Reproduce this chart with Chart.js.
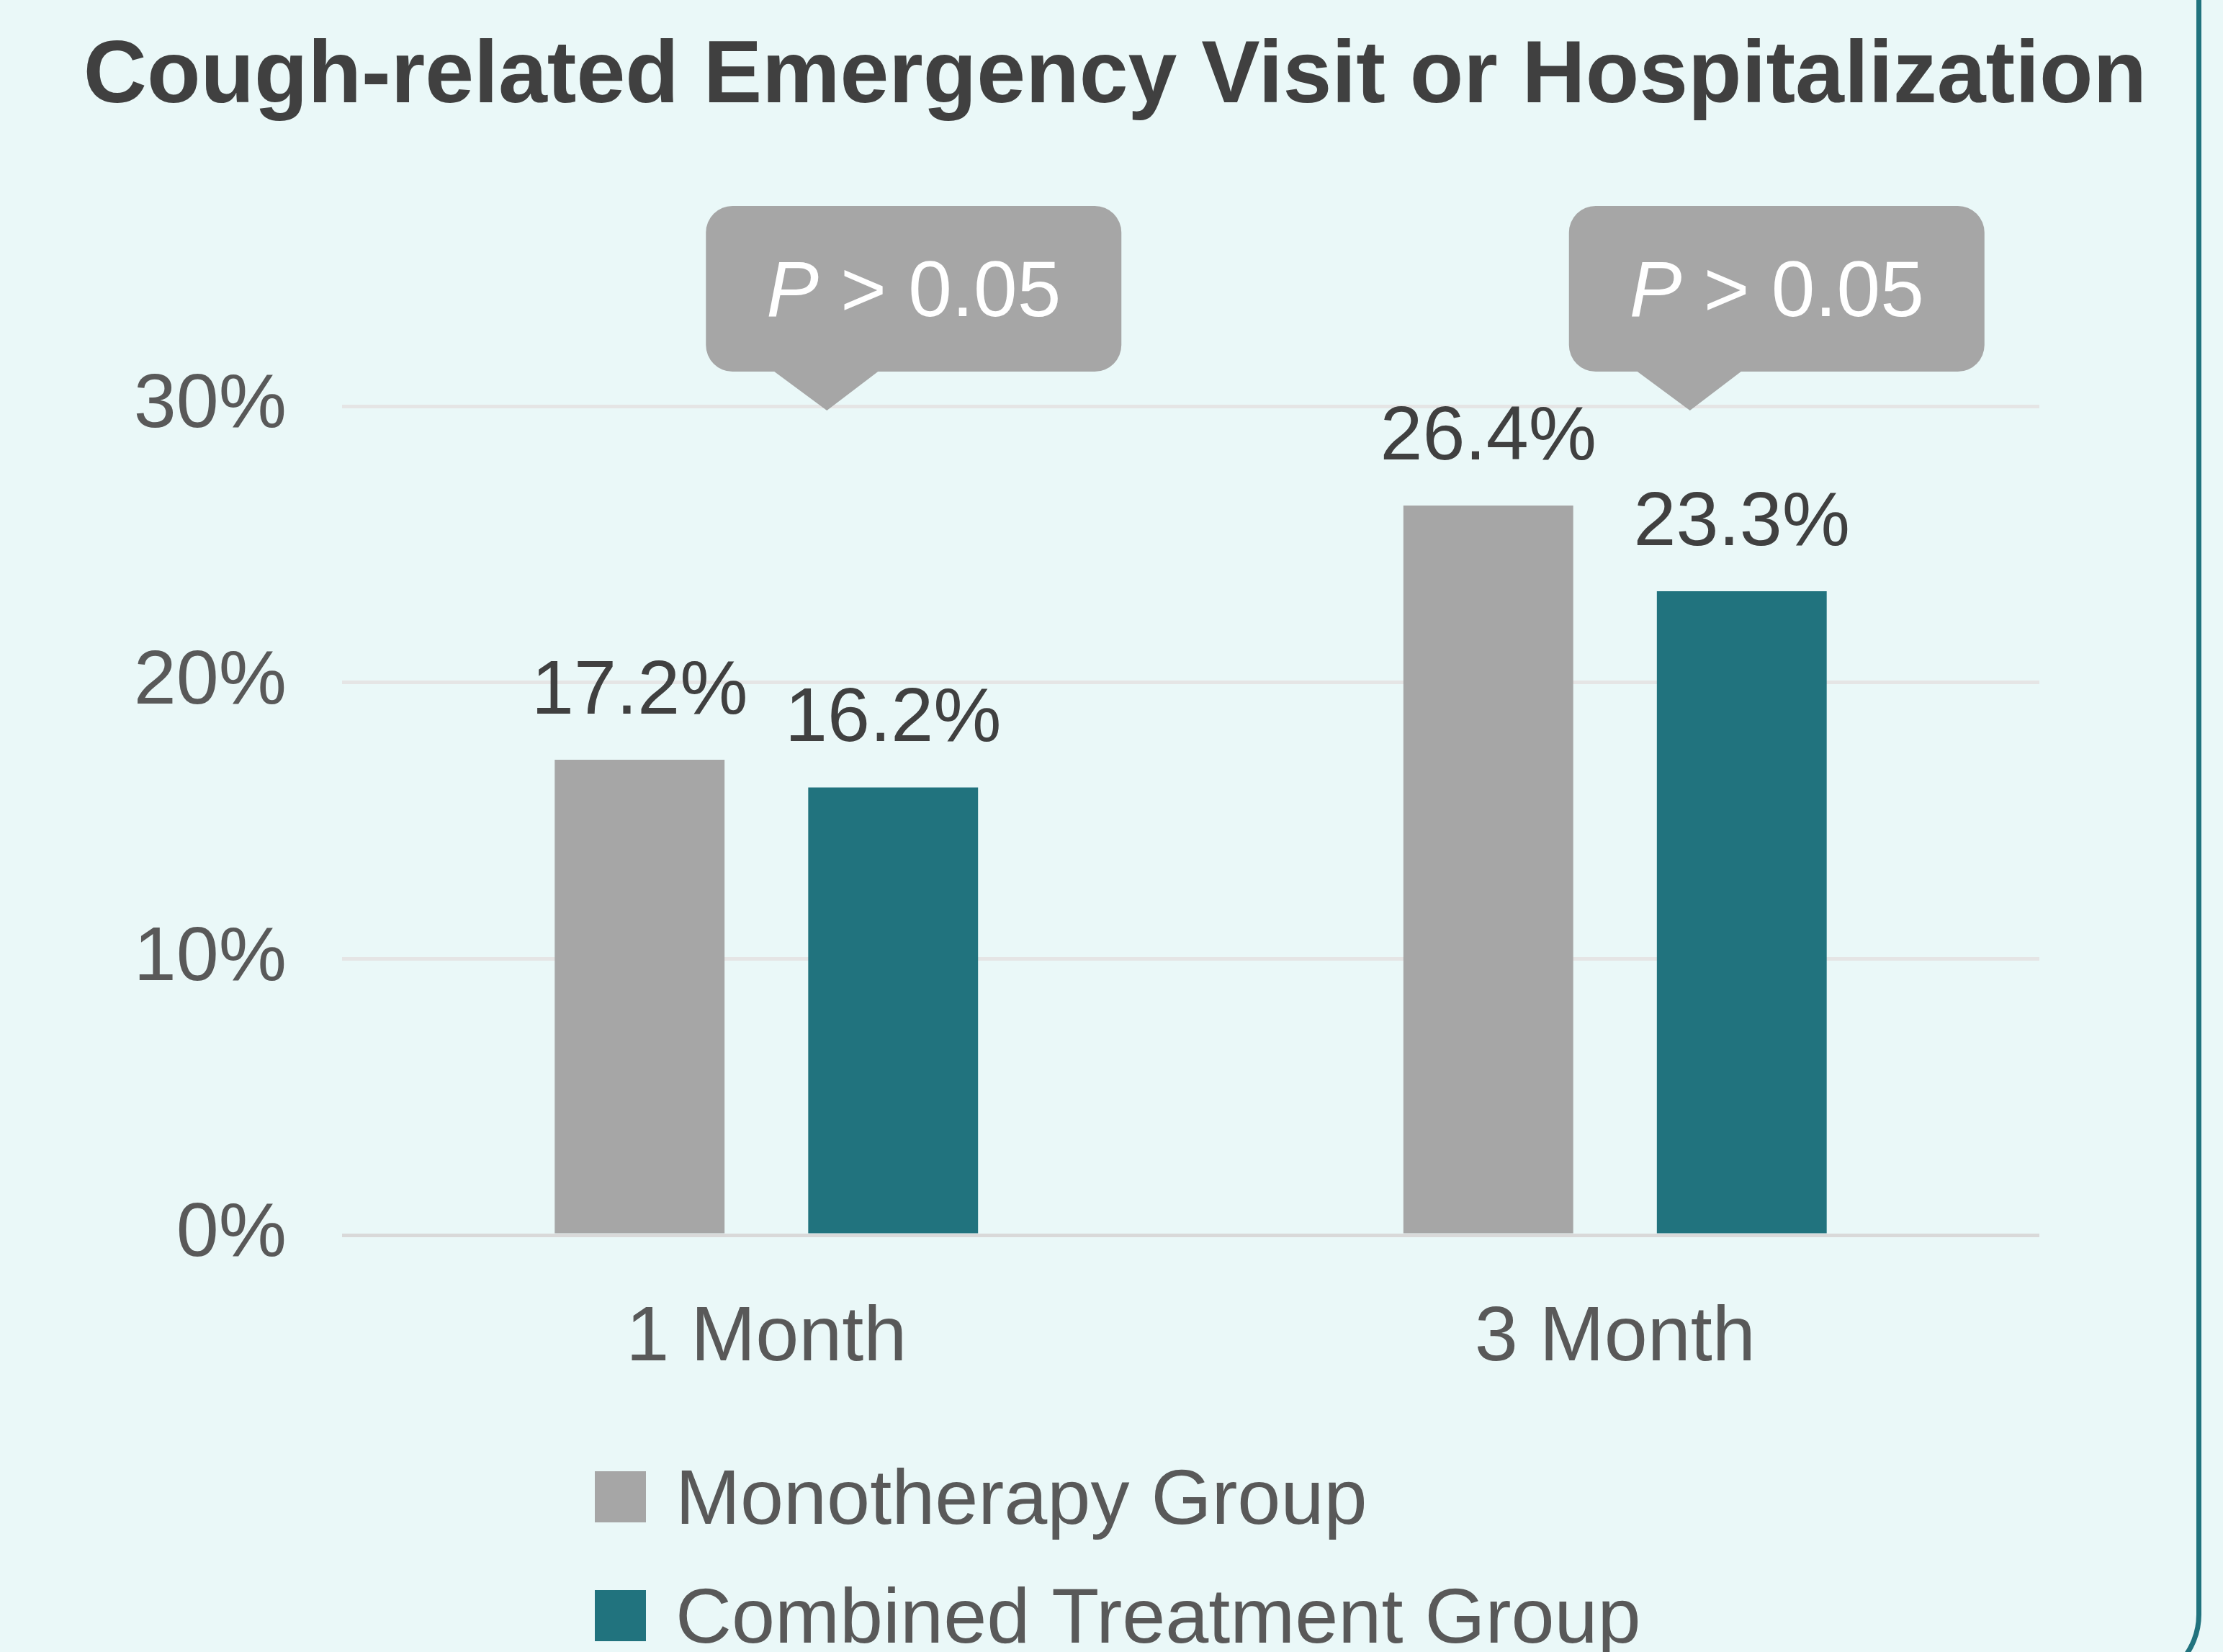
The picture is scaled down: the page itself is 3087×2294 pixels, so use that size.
<!DOCTYPE html>
<html>
<head>
<meta charset="utf-8">
<title>Cough-related Emergency Visit or Hospitalization</title>
<script src="https://cdn.jsdelivr.net/npm/chart.js@4/dist/chart.umd.min.js"></script>
<style>
  html, body { margin: 0; padding: 0; background: #eaf8f8; overflow: hidden; }
  #wrap { position: relative; width: 3087px; height: 2294px; }
  #card {
    position: absolute; left: -300px; top: -300px;
    width: 3357px; height: 2642px; box-sizing: border-box;
    border: 7px solid #21737e; border-radius: 100px;
  }
  canvas { position: absolute; left: 0; top: 0; }
</style>
</head>
<body>
<div id="wrap">
  <div id="card"></div>
  <canvas id="coughChart" width="3087" height="2294"></canvas>
</div>
<script>
const categories = ["1 Month", "3 Month"];
const monoValues = [17.2, 26.4];
const combinedValues = [16.2, 23.3];
const seriesNames = ["Monotherapy Group", "Combined Treatment Group"];
const yMax = 30;
const yStep = 10;
const pLabels = ["> 0.05", "> 0.05"];
const chartTitle = "Cough-related Emergency Visit or Hospitalization";

const FONT = "'Liberation Sans', Arial, Helvetica, sans-serif";
const GRAY = "#a6a6a6";
const TEAL = "#21737e";
// horizontal nudge of each bubble tip from its category centre
const bubbleDx = [84, 104];

// title centred on the whole card, not on the plot
const cardTitle = {
  id: "cardTitle",
  afterDraw(chart) {
    const ctx = chart.ctx;
    ctx.save();
    ctx.font = "bold 122px " + FONT;
    ctx.fillStyle = "#404040";
    ctx.textAlign = "center";
    ctx.textBaseline = "alphabetic";
    ctx.fillText(chartTitle, chart.width / 2 + 5, 142);
    ctx.restore();
  }
};

// value labels above each bar
const barLabels = {
  id: "barLabels",
  afterDatasetsDraw(chart) {
    const ctx = chart.ctx;
    ctx.save();
    ctx.font = "106px " + FONT;
    ctx.fillStyle = "#404040";
    ctx.textAlign = "center";
    ctx.textBaseline = "alphabetic";
    chart.data.datasets.forEach((ds, i) => {
      chart.getDatasetMeta(i).data.forEach((bar, j) => {
        ctx.fillText(ds.data[j].toFixed(1) + "%", bar.x, bar.y - 64);
      });
    });
    ctx.restore();
  }
};

// grey speech bubbles with the p values
const pBubbles = {
  id: "pBubbles",
  afterDraw(chart) {
    const ctx = chart.ctx;
    const xs = chart.scales.x;
    const top = chart.chartArea.top;
    ctx.save();
    pLabels.forEach((txt, i) => {
      const tipX = xs.getPixelForValue(i) + bubbleDx[i];
      const tipY = top + 6;
      const left = tipX - 168, w = 577;
      const bottom = top - 48, h = 230, r = 37;
      const y0 = bottom - h;
      ctx.fillStyle = GRAY;
      ctx.beginPath();
      ctx.moveTo(left + r, y0);
      ctx.lineTo(left + w - r, y0);
      ctx.arcTo(left + w, y0, left + w, y0 + r, r);
      ctx.lineTo(left + w, bottom - r);
      ctx.arcTo(left + w, bottom, left + w - r, bottom, r);
      ctx.lineTo(tipX + 71, bottom);
      ctx.lineTo(tipX, tipY);
      ctx.lineTo(tipX - 73, bottom);
      ctx.lineTo(left + r, bottom);
      ctx.arcTo(left, bottom, left, bottom - r, r);
      ctx.lineTo(left, y0 + r);
      ctx.arcTo(left, y0, left + r, y0, r);
      ctx.closePath();
      ctx.fill();

      const italic = "italic 109px " + FONT;
      const normal = "109px " + FONT;
      ctx.font = italic;
      const pw = ctx.measureText("P").width;
      ctx.font = normal;
      const rest = " " + txt;
      const rw = ctx.measureText(rest).width;
      const sx = left + w / 2 - (pw + rw) / 2;
      const by = y0 + h / 2 + 38;
      ctx.fillStyle = "#ffffff";
      ctx.textAlign = "left";
      ctx.textBaseline = "alphabetic";
      ctx.font = italic;
      ctx.fillText("P", sx, by);
      ctx.font = normal;
      ctx.fillText(rest, sx + pw, by);
    });
    ctx.restore();
  }
};

// stacked legend under the axis
const stackedLegend = {
  id: "stackedLegend",
  afterDraw(chart) {
    const ctx = chart.ctx;
    const items = Chart.defaults.plugins.legend.labels.generateLabels(chart);
    ctx.save();
    ctx.font = "108px " + FONT;
    ctx.textAlign = "left";
    ctx.textBaseline = "alphabetic";
    items.forEach((item, i) => {
      const top = 2043 + i * 165;
      ctx.fillStyle = item.fillStyle;
      ctx.fillRect(826, top, 71, 71);
      ctx.fillStyle = "#595959";
      ctx.fillText(item.text, 938, top + 73);
    });
    ctx.restore();
  }
};

new Chart(document.getElementById("coughChart").getContext("2d"), {
  type: "bar",
  data: {
    labels: categories,
    datasets: [
      { label: seriesNames[0], data: monoValues, backgroundColor: GRAY },
      { label: seriesNames[1], data: combinedValues, backgroundColor: TEAL }
    ]
  },
  options: {
    responsive: false,
    animation: false,
    devicePixelRatio: 1,
    layout: { padding: { left: 0, right: 255, top: 564, bottom: 0 } },
    datasets: {
      bar: { categoryPercentage: 0.5974, barPercentage: 0.67 }
    },
    plugins: {
      legend: { display: false },
      tooltip: { enabled: false },
      title: { display: false }
    },
    scales: {
      x: {
        grid: { display: false, drawTicks: false },
        border: { display: false },
        ticks: { color: "#595959", padding: 79, font: { family: FONT, size: 108 } },
        afterFit: (s) => { s.height = 579; }
      },
      y: {
        min: 0,
        max: yMax,
        grid: {
          drawTicks: false,
          lineWidth: 5,
          color: (c) => (c.tick && c.tick.value === 0 ? "#d9d9d9" : "#e5e5e5")
        },
        border: { display: false },
        ticks: {
          stepSize: yStep,
          color: "#595959",
          padding: 77,
          font: { family: FONT, size: 106 },
          callback: (v) => v + "%"
        },
        afterFit: (s) => { s.width = 475; }
      }
    }
  },
  plugins: [cardTitle, barLabels, pBubbles, stackedLegend]
});
</script>
</body>
</html>
